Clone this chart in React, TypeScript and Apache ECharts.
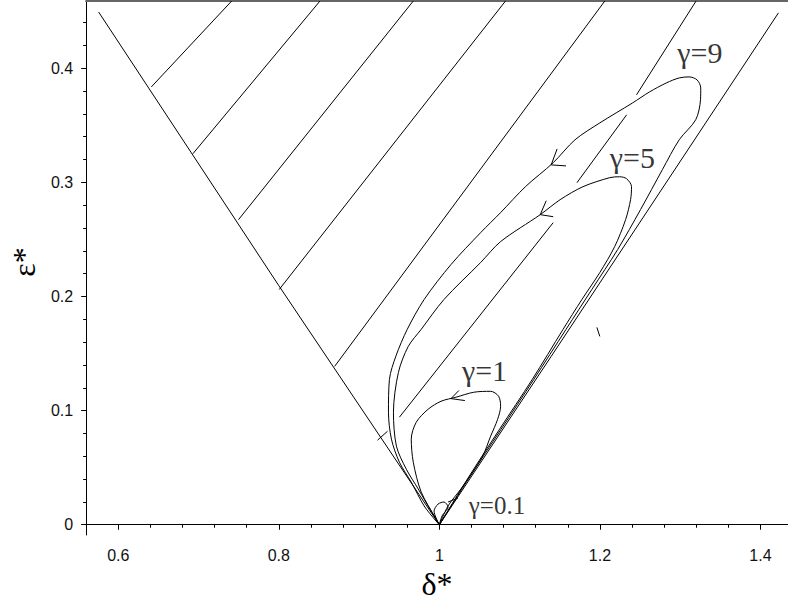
import React, { useEffect, useRef } from "react";
import * as echarts from "echarts";

// Axis ranges and ticks
const xRange = [0.56, 1.4343];
const yRange = [-0.009, 0.4589];
const xMajorTicks = [0.6, 0.8, 1, 1.2, 1.4];
const xMinorTicks = [0.56, 0.6, 0.64, 0.68, 0.72, 0.76, 0.8, 0.84, 0.88, 0.92, 0.96, 1, 1.04, 1.08, 1.12, 1.16, 1.2, 1.24, 1.28, 1.32, 1.36, 1.4];
const yMajorTicks = [0, 0.1, 0.2, 0.3, 0.4];
const yMinorTicks = [0, 0.02, 0.04, 0.06, 0.08, 0.1, 0.12, 0.14, 0.16, 0.18, 0.2, 0.22, 0.24, 0.26, 0.28, 0.3, 0.32, 0.34, 0.36, 0.38, 0.4, 0.42, 0.44];

// Boundary lines of the wedge
const leftBoundary = [[0.5756, 0.4492], [0.8, 0.2095], [1, 0]];
const rightBoundary = [[1, 0], [1.1393, 0.1475], [1.4224, 0.4485]];

// Hatch segments
const hatch1 = [[0.6412, 0.3836], [0.7413, 0.4589]];
const hatch2 = [[0.693, 0.3251], [0.8513, 0.4589]];
const hatch3 = [[0.7498, 0.2673], [0.9675, 0.4589]];
const hatch4 = [[0.8005, 0.2061], [1.0824, 0.4589]];
const hatch5 = [[0.8696, 0.1388], [1.2061, 0.4589]];
const hatch6a = [[0.9502, 0.0942], [1.1418, 0.2647]];
const hatch6b = [[1.1714, 0.2997], [1.2333, 0.3592]];
const hatch6c = [[1.2456, 0.3767], [1.3198, 0.4589]];
const stub1 = [[0.923, 0.0741], [0.9354, 0.0819]];
const stub2 = [[1.1962, 0.1729], [1.1999, 0.165]];

// Trajectories
const gamma9 = [
  [1, 0], [1.0361, 0.04], [1.0769, 0.0837], [1.1177, 0.1274], [1.1578, 0.1712], [1.19, 0.2062],
  [1.2221, 0.2411], [1.2506, 0.2761], [1.2778, 0.3111], [1.2988, 0.3373], [1.3194, 0.3549],
  [1.3253, 0.3724], [1.3256, 0.3827], [1.321, 0.3898], [1.3111, 0.3924], [1.2988, 0.3915],
  [1.2827, 0.3871], [1.2617, 0.3792], [1.2407, 0.3696], [1.1999, 0.3521], [1.169, 0.3373],
  [1.1418, 0.3172], [1.1072, 0.2962], [1.0763, 0.2735], [1.0515, 0.256], [1.0145, 0.228],
  [0.9811, 0.1974], [0.96, 0.1712], [0.946, 0.148], [0.9378, 0.1274], [0.9366, 0.0986],
  [0.9403, 0.075], [0.9502, 0.0548], [0.965, 0.0373], [0.9811, 0.0164], [0.9959, 0.0032], [1, 0]
];
const gamma5 = [
  [1, 0], [1.0349, 0.04], [1.075, 0.0837], [1.1158, 0.1274], [1.1541, 0.1712], [1.1776, 0.1974],
  [1.1999, 0.221], [1.2184, 0.2437], [1.232, 0.2673], [1.2382, 0.2848], [1.2394, 0.2962],
  [1.2332, 0.3032], [1.2246, 0.3049], [1.2122, 0.3041], [1.1789, 0.2962], [1.1504, 0.2848],
  [1.1257, 0.2717], [1.0763, 0.2481], [1.0515, 0.2298], [1.0058, 0.1974], [0.9774, 0.1712],
  [0.9613, 0.1563], [0.949, 0.1335], [0.9428, 0.0986], [0.9465, 0.0689], [0.9588, 0.0487],
  [0.9737, 0.0313], [0.9897, 0.012], [1, 0]
];
const gamma1 = [
  [1, 0], [1.0108, 0.0164], [1.0268, 0.0313], [1.0417, 0.0461], [1.054, 0.0601], [1.0639, 0.0776],
  [1.0726, 0.0924], [1.0763, 0.1038], [1.0738, 0.1126], [1.0639, 0.1169], [1.0429, 0.1161],
  [1.0206, 0.1117], [1.0021, 0.1082], [0.986, 0.1012], [0.9712, 0.0898], [0.965, 0.075],
  [0.9675, 0.0548], [0.9774, 0.0286], [0.9959, 0.005], [1, 0]
];
const gamma01 = [
  [1, 0], [0.9934, 0.012], [0.9984, 0.0181], [1.0058, 0.0199], [1.0108, 0.0155], [1.0033, 0.0076], [1, 0]
];

// Arrow heads (arm, tip on curve, arm) and leader
const arrow9 = [[1.1467, 0.3293], [1.1393, 0.3153], [1.1578, 0.3144]];
const arrow5 = [[1.1331, 0.2839], [1.1257, 0.2717], [1.1418, 0.2699]];
const arrow1 = [[1.0243, 0.1176], [1.0145, 0.1105], [1.0318, 0.1088]];
const leader01 = [[1.0108, 0.0199], [1.0232, 0.0234]];

// Curve labels
const curveLabels = [
  { text: "γ=9", pos: [1.2963, 0.4138], size: 30 },
  { text: "γ=5", pos: [1.2122, 0.3216], size: 30 },
  { text: "γ=1", pos: [1.0281, 0.1353], size: 30 },
  { text: "γ=0.1", pos: [1.0367, 0.0168], size: 25 },
];

const SERIF = "Times New Roman, Liberation Serif, DejaVu Serif, serif";
const SANS = "Arial, Liberation Sans, sans-serif";

export default function App() {
  const ref = useRef<HTMLDivElement>(null);
  useEffect(() => {
    if (!ref.current) return;
    const chart = echarts.init(ref.current, null, { renderer: "svg" });
    const lineSeries = (data: number[][], smooth: number) => ({
      type: "line",
      data,
      showSymbol: false,
      symbol: "none",
      silent: true,
      smooth,
      lineStyle: { color: "#000", width: 1 },
      xAxisIndex: 0,
      yAxisIndex: 0,
    });
    const straight = [
      leftBoundary, rightBoundary,
      hatch1, hatch2, hatch3, hatch4, hatch5, hatch6a, hatch6b, hatch6c, stub1, stub2,
      arrow9, arrow5, arrow1, leader01,
    ];
    const curved = [gamma9, gamma5, gamma1, gamma01];
    const labelSeries = curveLabels.map((l) => ({
      type: "scatter",
      data: [l.pos],
      symbolSize: 0,
      silent: true,
      xAxisIndex: 0,
      yAxisIndex: 0,
      label: {
        show: true,
        position: "right",
        distance: 0,
        formatter: l.text,
        fontFamily: SERIF,
        fontSize: l.size,
        color: "#000",
      },
    }));
    const baseX = { type: "value", min: xRange[0], max: xRange[1], splitLine: { show: false } };
    const baseY = { type: "value", min: yRange[0], max: yRange[1], splitLine: { show: false } };
    chart.setOption({
      animation: false,
      backgroundColor: "#fff",
      grid: { left: 81, right: 0, top: 1, bottom: 69, containLabel: false },
      xAxis: [
        {
          ...baseX,
          position: "bottom",
          axisLine: { show: true, lineStyle: { color: "#000", width: 1 } },
          axisTick: { show: true, length: 5, customValues: xMajorTicks, lineStyle: { color: "#000" } },
          axisLabel: { show: true, customValues: xMajorTicks, margin: 12, fontFamily: SANS, fontSize: 16, color: "#111" },
          name: "δ*",
          nameLocation: "middle",
          nameGap: 33,
          nameTextStyle: { fontFamily: SERIF, fontSize: 32, color: "#000" },
        },
        {
          ...baseX,
          position: "bottom",
          axisLine: { show: false },
          axisTick: { show: true, length: 3, customValues: xMinorTicks, lineStyle: { color: "#000" } },
          axisLabel: { show: false },
        },
        {
          ...baseX,
          position: "top",
          axisLine: { show: true, lineStyle: { color: "#666", width: 2 } },
          axisTick: { show: false },
          axisLabel: { show: false },
        },
      ],
      yAxis: [
        {
          ...baseY,
          position: "left",
          axisLine: { show: true, lineStyle: { color: "#000", width: 1 } },
          axisTick: { show: true, length: 5, customValues: yMajorTicks, lineStyle: { color: "#000" } },
          axisLabel: { show: true, customValues: yMajorTicks, margin: 13, fontFamily: SANS, fontSize: 16, color: "#111" },
          name: "ε*",
          nameLocation: "middle",
          nameGap: 46,
          nameTextStyle: { fontFamily: SERIF, fontSize: 32, color: "#000", padding: [0, 0, 0, 12] },
        },
        {
          ...baseY,
          position: "left",
          axisLine: { show: false },
          axisTick: { show: true, length: 3, customValues: yMinorTicks, lineStyle: { color: "#000" } },
          axisLabel: { show: false },
        },
      ],
      series: [
        ...straight.map((d) => lineSeries(d, 0)),
        ...curved.map((d) => lineSeries(d, 0.3)),
        ...labelSeries,
      ],
    });
    return () => chart.dispose();
  }, []);
  return (
    <div
      ref={ref}
      style={{ position: "fixed", left: 0, top: 0, width: 788, height: 605, background: "#fff" }}
    />
  );
}
